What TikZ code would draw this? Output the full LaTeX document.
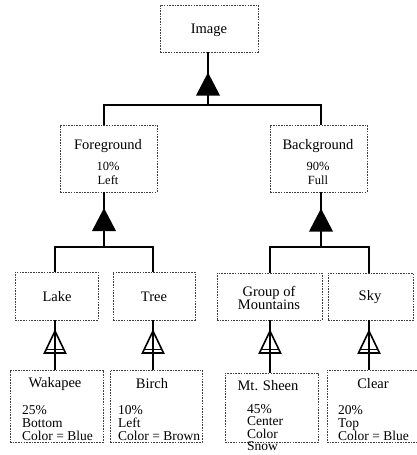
\documentclass[tikz,border=0pt]{standalone}
\usepackage{fontspec}
\setmainfont{Liberation Serif}
\begin{document}
\begin{tikzpicture}[x=1pt,y=-1pt,
  box/.style={draw=black!75, line width=0.7pt, dash pattern=on 1.6pt off 1.1pt,
    rectangle, inner sep=0pt},
  title/.style={font=\fontsize{14.5}{14}\selectfont, inner sep=0pt},
  info/.style={font=\fontsize{13.5}{13.3}\selectfont, inner sep=0pt, align=left, anchor=north west},
  infoc/.style={font=\fontsize{12.5}{14}\selectfont, inner sep=0pt, align=center},
  link/.style={line width=1.5pt},
  filltri/.pic={\fill (0,-11.5) -- (12,11.5) -- (-12,11.5) -- cycle;},
  opentri/.pic={\draw[line width=1.6pt, fill=white, line join=miter] (0,-11) -- (10.5,11) -- (-10.5,11) -- cycle;
                \draw[line width=1pt] (-8,7) -- (8,7);
                \draw[line width=1.2pt] (0,-11) -- (0,11);}
]
\useasboundingbox (0,0) rectangle (417,455);

% column positions of the connectors
\coordinate (c0) at (208,0);
\coordinate (cf) at (104,0);
\coordinate (cb) at (321,0);
\coordinate (c1) at (55,0);
\coordinate (c2) at (153,0);
\coordinate (c3) at (270,0);
\coordinate (c4) at (369,0);
% rows of the horizontal bars
\coordinate (topbar) at (0,105);
\coordinate (lowbar) at (0,247);

% boxes
\node[box, minimum width=98pt, minimum height=47pt] (img) at (209,28.5) {};
\node[box, minimum width=97pt, minimum height=67pt] (fg) at (108.5,158.5) {};
\node[box, minimum width=97pt, minimum height=67pt] (bg) at (318.5,158.5) {};
\node[box, minimum width=83pt, minimum height=48pt] (lake) at (56.5,296) {};
\node[box, minimum width=82pt, minimum height=48pt] (tree) at (154,296) {};
\node[box, minimum width=105pt, minimum height=47pt] (grp) at (269.5,296.5) {};
\node[box, minimum width=85pt, minimum height=47pt] (sky) at (370.5,296.5) {};
\node[box, minimum width=93pt, minimum height=72pt] (wak) at (56.5,406) {};
\node[box, minimum width=92pt, minimum height=72pt] (birch) at (156,406) {};
\node[box, minimum width=93pt, minimum height=69pt] (mt) at (271.5,407.5) {};
\node[box, minimum width=90pt, minimum height=72pt] (clear) at (372,406) {};

% connectors
\draw[link] (img.south -| c0) -- (topbar -| c0);
\draw[link] (fg.north -| cf) -- (topbar -| cf) -- (topbar -| cb) -- (bg.north -| cb);
\draw[link] (fg.south -| cf) -- (lowbar -| cf);
\draw[link] (bg.south -| cb) -- (lowbar -| cb);
\draw[link] (lake.north -| c1) -- (lowbar -| c1) -- (lowbar -| c2) -- (tree.north -| c2);
\draw[link] (grp.north -| c3) -- (lowbar -| c3) -- (lowbar -| c4) -- (sky.north -| c4);
\draw[link] (lake.south -| c1) -- (wak.north -| c1);
\draw[link] (tree.south -| c2) -- (birch.north -| c2);
\draw[link] (grp.south -| c3) -- (mt.north -| c3);
\draw[link] (sky.south -| c4) -- (clear.north -| c4);

% triangle markers
\pic at (c0 |- 0,84) {filltri};
\pic at (cf |- 0,219.5) {filltri};
\pic at (cb |- 0,220) {filltri};
\pic at (c1 |- 0,342) {opentri};
\pic at (c2 |- 0,342) {opentri};
\pic at (c3 |- 0,342) {opentri};
\pic at (c4 |- 0,342) {opentri};

% texts
\node[title] (imgT) at (209,30) {Image};
\node[title] (fgT) at (108,146) {Foreground};
\node[infoc] (fgI) at (108,173) {10\%\\Left};
\node[title] (bgT) at (318,146) {Background};
\node[infoc] (bgI) at (318,173) {90\%\\Full};
\node[title] (lakeT) at (57,297) {Lake};
\node[title] (treeT) at (154,297) {Tree};
\node[title, align=center, font=\fontsize{14.5}{13.5}\selectfont] (grpT) at (269,298) {Group of\\Mountains};
\node[title] (skyT) at (370,297) {Sky};
\node[title] (wakT) at (55,384) {Wakapee};
\node[info] (wakI) at (22,405) {25\%\\Bottom\\Color = Blue};
\node[title] (birchT) at (152,384) {Birch};
\node[info] (birchI) at (118,405) {10\%\\Left\\Color = Brown};
\node[title] (mtT) at (268,386) {Mt. Sheen};
\node[info, font=\fontsize{13.5}{12.5}\selectfont] (mtI) at (247,404) {45\%\\Center\\Color\\Snow};
\node[title] (clearT) at (373,384) {Clear};
\node[info] (clearI) at (338,405) {20\%\\Top\\Color = Blue};
\end{tikzpicture}
\end{document}
